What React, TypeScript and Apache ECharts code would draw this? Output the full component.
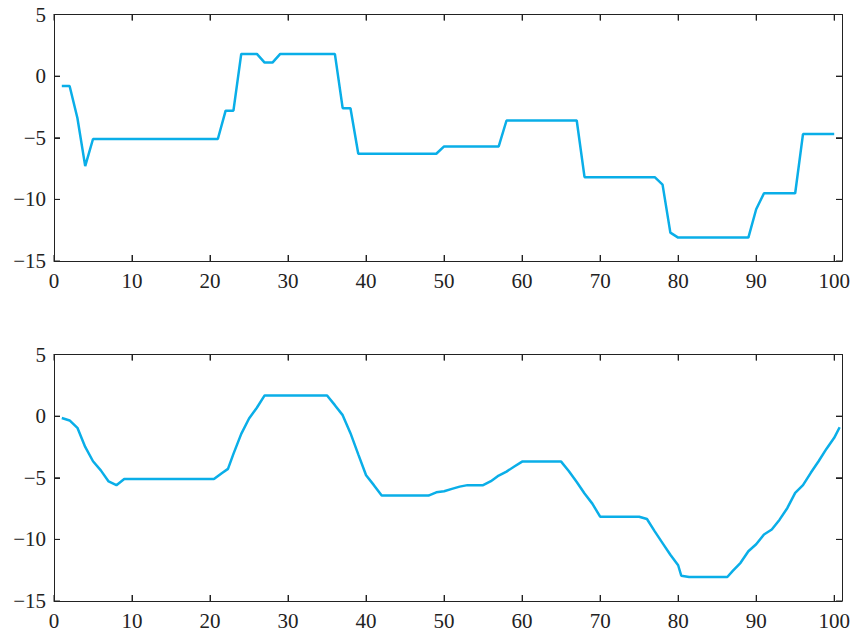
import React, { useEffect, useRef } from "react";
import * as echarts from "echarts";

const topValues = [
  -0.8, -0.8, -3.4, -7.3, -5.1,
  -5.1, -5.1, -5.1, -5.1, -5.1, -5.1, -5.1, -5.1, -5.1, -5.1, -5.1, -5.1, -5.1, -5.1, -5.1, -5.1,
  -2.8, -2.8,
  1.8, 1.8, 1.8, 1.1, 1.1,
  1.8, 1.8, 1.8, 1.8, 1.8, 1.8, 1.8, 1.8,
  -2.6, -2.6,
  -6.3, -6.3, -6.3, -6.3, -6.3, -6.3, -6.3, -6.3, -6.3, -6.3, -6.3,
  -5.7, -5.7, -5.7, -5.7, -5.7, -5.7, -5.7, -5.7,
  -3.6, -3.6, -3.6, -3.6, -3.6, -3.6, -3.6, -3.6, -3.6, -3.6,
  -8.2, -8.2, -8.2, -8.2, -8.2, -8.2, -8.2, -8.2, -8.2, -8.2,
  -8.8, -12.7,
  -13.1, -13.1, -13.1, -13.1, -13.1, -13.1, -13.1, -13.1, -13.1, -13.1,
  -10.8,
  -9.5, -9.5, -9.5, -9.5, -9.5,
  -4.7, -4.7, -4.7, -4.7, -4.7,
];

const bottomX = [
  1, 2, 3, 4, 5, 6, 7, 8, 9,
  20.5, 21.5, 22.3, 23, 24, 25, 26, 27,
  35, 36, 37, 38, 39, 40, 41, 42,
  48, 49, 50, 51, 52, 53,
  55, 56, 57, 58, 59, 60,
  65, 66, 67, 68, 69, 70,
  75, 76, 77, 78, 79, 80,
  80.4, 81.4, 86.3,
  87, 88, 89, 90, 91, 92, 93, 94, 95, 96, 97, 98, 99, 100,
  100.7,
];
const bottomValues = [
  -0.15, -0.35, -0.95, -2.5, -3.66, -4.4, -5.3, -5.6, -5.1,
  -5.1, -4.63, -4.28, -3.06, -1.44, -0.19, 0.68, 1.68,
  1.68, 0.89, 0.08, -1.38, -3.1, -4.8, -5.6, -6.45,
  -6.45, -6.18, -6.1, -5.9, -5.72, -5.6,
  -5.6, -5.28, -4.82, -4.5, -4.09, -3.69,
  -3.69, -4.47, -5.34, -6.28, -7.1, -8.16,
  -8.16, -8.35, -9.35, -10.3, -11.25, -12.1,
  -12.95, -13.05, -13.05,
  -12.55, -11.9, -10.96, -10.4, -9.6, -9.2, -8.4, -7.45, -6.23, -5.6, -4.6, -3.66, -2.66, -1.76,
  -0.9,
];

const xTicks = [0, 10, 20, 30, 40, 50, 60, 70, 80, 90, 100];
const yTicks = [-15, -10, -5, 0, 5];

const X_MIN = 0;
const X_MAX = 101;
const Y_MIN = -15;
const Y_MAX = 5;

const LINE_COLOR = "#0aaee8";
const AXIS_COLOR = "#222";
const FONT = "Liberation Serif";
const TICK_PX = 6;
const GRID_W = 788;
const GRID_H = 246.5;

function fmt(v: number) {
  return String(v).replace("-", "\u2212");
}

function mkLine() {
  return { show: true, onZero: false, lineStyle: { color: AXIS_COLOR, width: 1 } };
}
function mkTick() {
  return { show: true, inside: true, length: TICK_PX, lineStyle: { color: AXIS_COLOR, width: 1 } };
}

// Inward tick marks on all four sides, as short segments in axis units
// (drawn by a line series through the same scales as the data).
function tickSegments() {
  const ly = (TICK_PX * (Y_MAX - Y_MIN)) / GRID_H;
  const lx = (TICK_PX * (X_MAX - X_MIN)) / GRID_W;
  const gap: any = ["-", "-"];
  const out: any[] = [];
  xTicks.forEach((v) => {
    out.push([v, Y_MIN], [v, Y_MIN + ly], gap, [v, Y_MAX], [v, Y_MAX - ly], gap);
  });
  yTicks.forEach((v) => {
    out.push([X_MIN, v], [X_MIN + lx, v], gap, [X_MAX, v], [X_MAX - lx, v], gap);
  });
  return out;
}

export default function App() {
  const ref = useRef<HTMLDivElement>(null);
  useEffect(() => {
    document.body.style.margin = "0";
    if (!ref.current) return;
    const chart = echarts.init(ref.current, null, { renderer: "svg" });
    const xAxisFor = (gi: number) => [
      {
        type: "value", gridIndex: gi, position: "bottom", min: X_MIN, max: X_MAX, interval: 10,
        axisLine: mkLine(), axisTick: mkTick(), splitLine: { show: false },
        axisLabel: {
          show: true, fontFamily: FONT, fontSize: 21, color: "#222", margin: 9,
          formatter: (v: number) => (xTicks.includes(v) ? fmt(v) : ""),
        },
      },
      {
        type: "value", gridIndex: gi, position: "top", min: X_MIN, max: X_MAX, interval: 10,
        axisLine: mkLine(), axisTick: mkTick(), splitLine: { show: false },
        axisLabel: { show: false },
      },
    ];
    const yAxisFor = (gi: number) => [
      {
        type: "value", gridIndex: gi, position: "left", min: Y_MIN, max: Y_MAX, interval: 5,
        axisLine: mkLine(), axisTick: mkTick(), splitLine: { show: false },
        axisLabel: {
          show: true, fontFamily: FONT, fontSize: 21, color: "#222", margin: 8,
          formatter: (v: number) => (yTicks.includes(v) ? fmt(v) : ""),
        },
      },
      {
        type: "value", gridIndex: gi, position: "right", min: Y_MIN, max: Y_MAX, interval: 5,
        axisLine: mkLine(), axisTick: mkTick(), splitLine: { show: false },
        axisLabel: { show: false },
      },
    ];
    const ticks = tickSegments();
    const tickSeries = (xi: number, yi: number) => ({
      type: "line", xAxisIndex: xi, yAxisIndex: yi, silent: true, showSymbol: false,
      connectNulls: false, z: 5,
      lineStyle: { color: AXIS_COLOR, width: 1 },
      data: ticks,
    });
    chart.setOption({
      animation: false,
      backgroundColor: "#fff",
      tooltip: { show: false },
      grid: [
        { left: 54, top: 14.5, width: GRID_W, height: GRID_H },
        { left: 54, top: 354.5, width: GRID_W, height: GRID_H },
      ],
      xAxis: [...xAxisFor(0), ...xAxisFor(1)],
      yAxis: [...yAxisFor(0), ...yAxisFor(1)],
      series: [
        {
          type: "line", xAxisIndex: 0, yAxisIndex: 0, showSymbol: false, z: 3,
          lineStyle: { color: LINE_COLOR, width: 2.5 },
          data: topValues.map((v, i) => [i + 1, v]),
        },
        {
          type: "line", xAxisIndex: 2, yAxisIndex: 2, showSymbol: false, z: 3,
          lineStyle: { color: LINE_COLOR, width: 2.5 },
          data: bottomX.map((x, i) => [x, bottomValues[i]]),
        },
        tickSeries(0, 0),
        tickSeries(2, 2),
      ],
    });
    return () => chart.dispose();
  }, []);
  return <div ref={ref} style={{ width: 858, height: 636, background: "#fff" }} />;
}
